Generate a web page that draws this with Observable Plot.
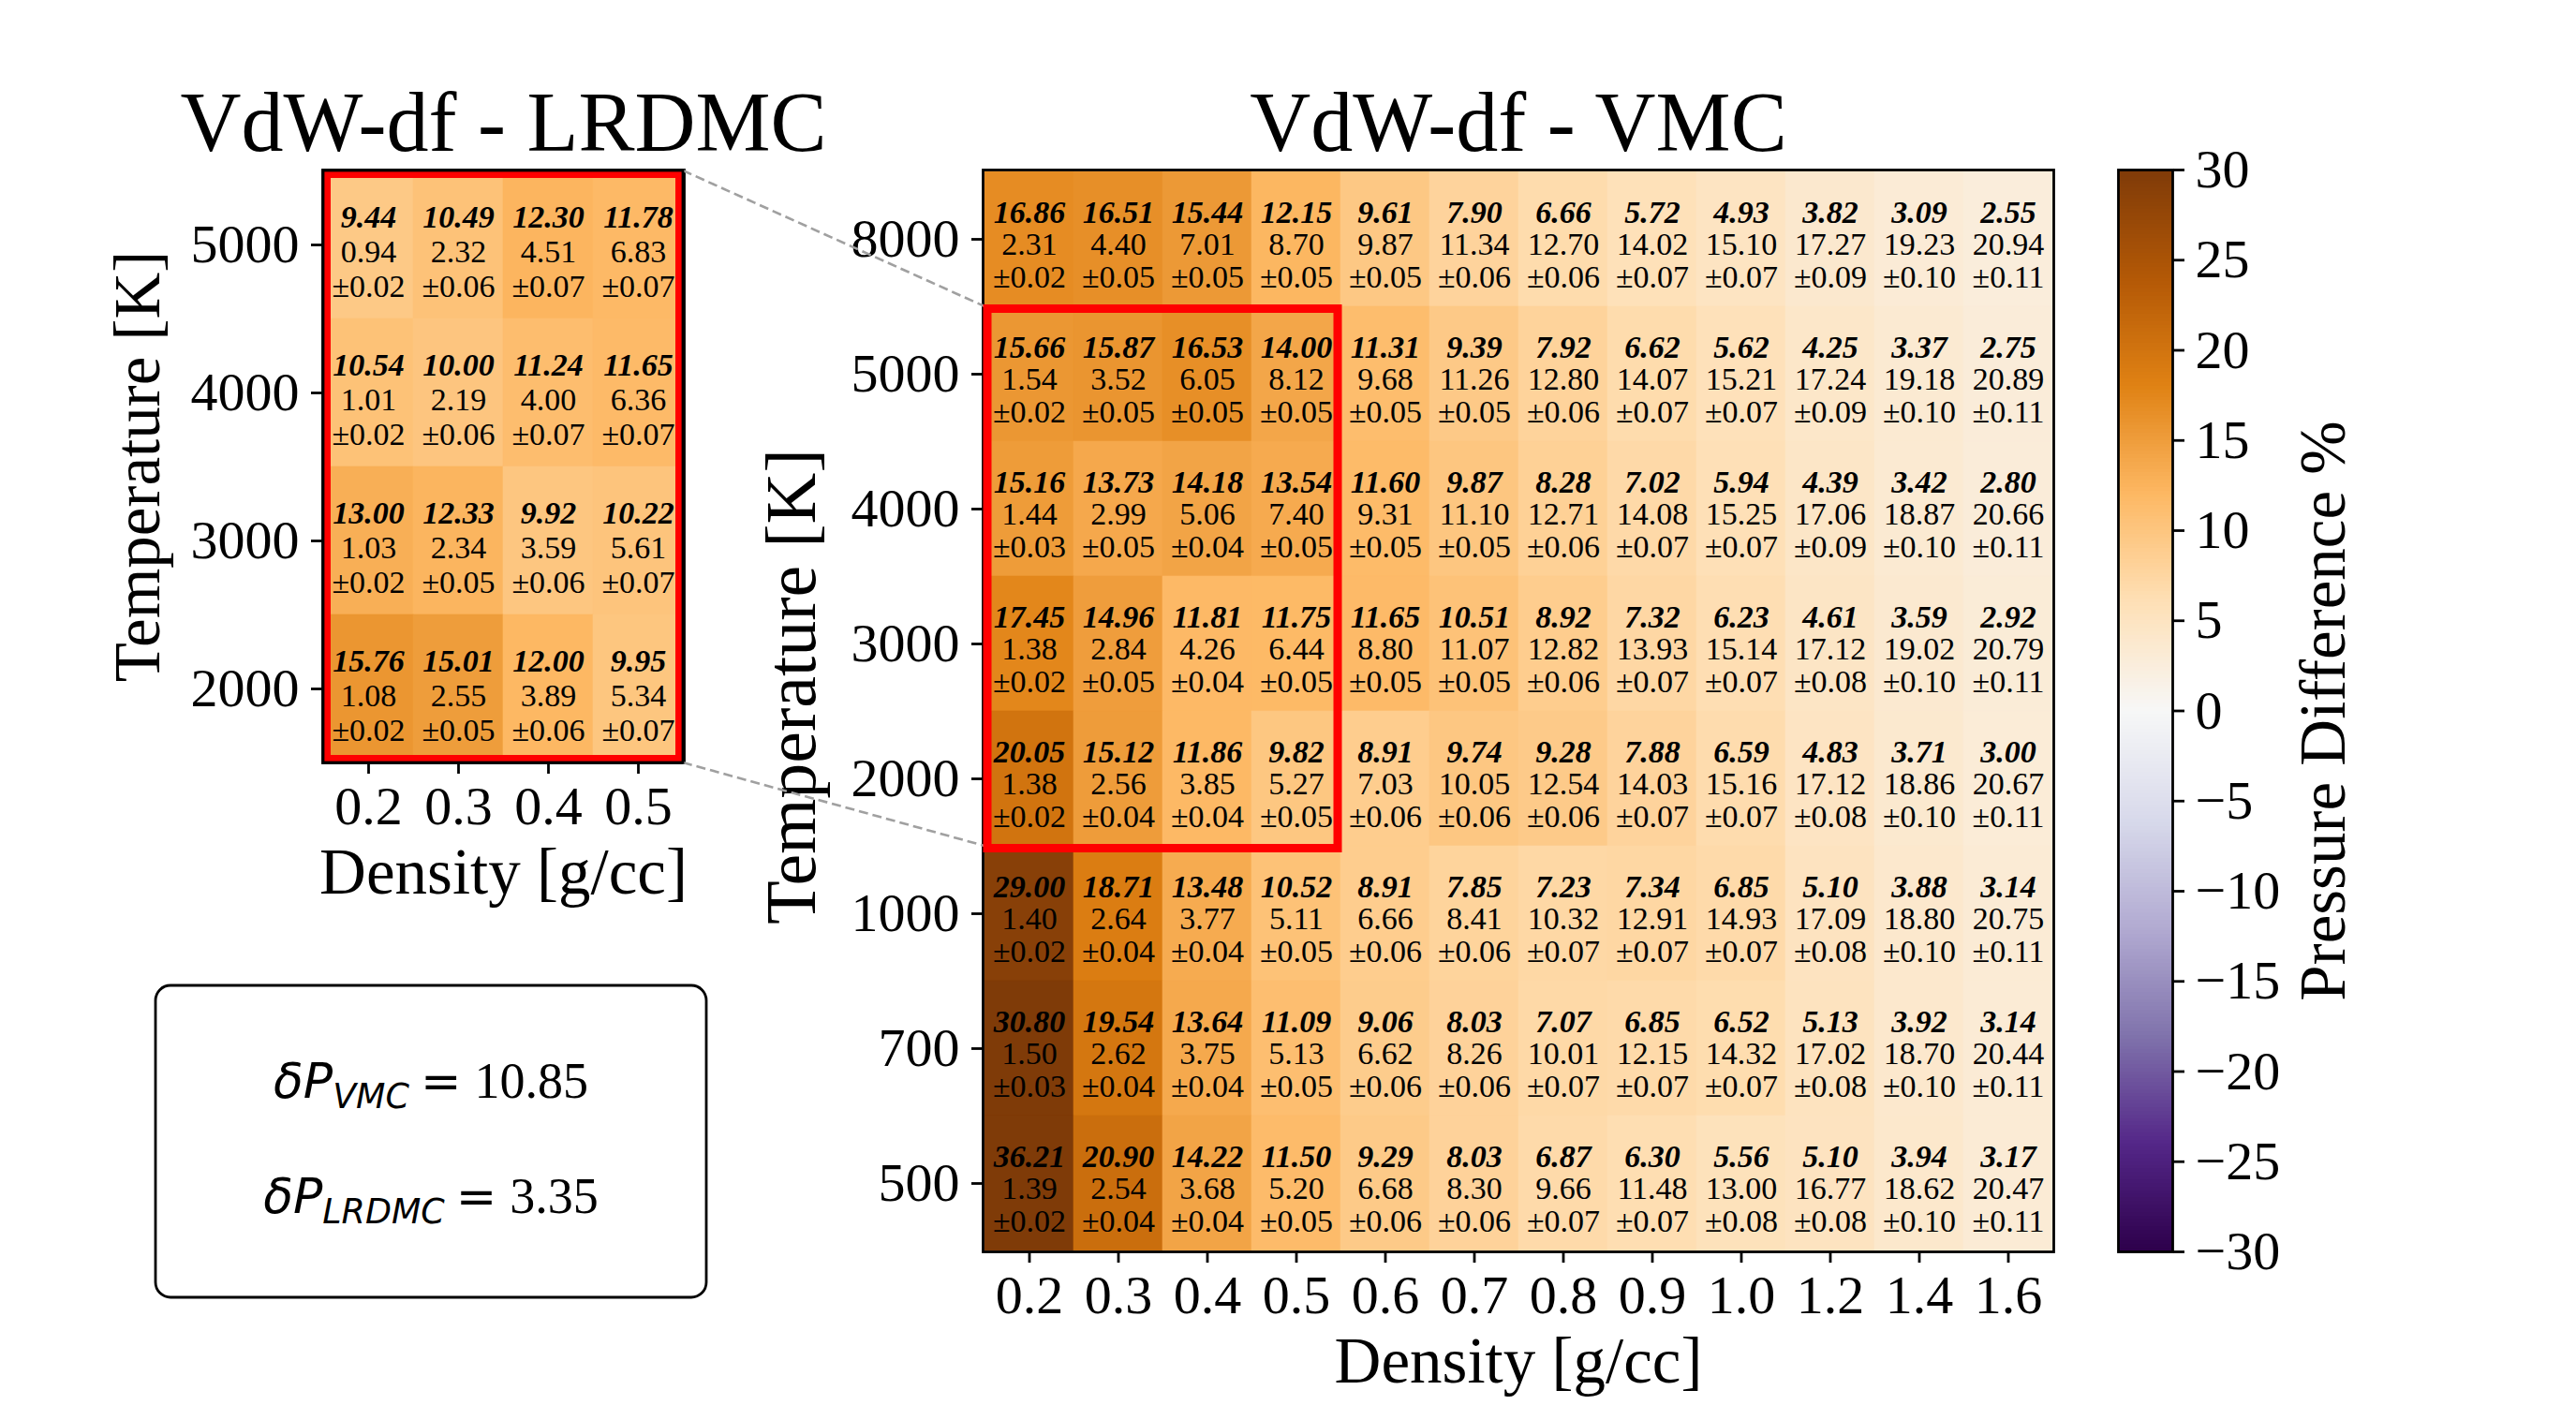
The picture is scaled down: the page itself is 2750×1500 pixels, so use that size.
<!DOCTYPE html>
<html>
<head>
<meta charset="utf-8">
<script src="https://cdn.jsdelivr.net/npm/d3@7"></script>
<script src="https://cdn.jsdelivr.net/npm/@observablehq/plot@0.6"></script>
<style>
  html, body { margin: 0; padding: 0; background: #fff; }
  #chart { position: relative; width: 2750px; height: 1500px; overflow: hidden; background: #fff; }
  #chart > svg { position: absolute; left: 0; top: 0; }
</style>
</head>
<body>
<div id="chart"></div>
<script>
// ---------------- DATA ----------------
const densityLabels = ["0.2","0.3","0.4","0.5","0.6","0.7","0.8","0.9","1.0","1.2","1.4","1.6"];
const temperatureLabels = ["8000","5000","4000","3000","2000","1000","700","500"];

// VdW-df - VMC : pressure difference % (rows = temperatures top to bottom)
const vmcDiff = [
  [16.86,16.51,15.44,12.15, 9.61, 7.90, 6.66, 5.72, 4.93, 3.82, 3.09, 2.55],
  [15.66,15.87,16.53,14.00,11.31, 9.39, 7.92, 6.62, 5.62, 4.25, 3.37, 2.75],
  [15.16,13.73,14.18,13.54,11.60, 9.87, 8.28, 7.02, 5.94, 4.39, 3.42, 2.80],
  [17.45,14.96,11.81,11.75,11.65,10.51, 8.92, 7.32, 6.23, 4.61, 3.59, 2.92],
  [20.05,15.12,11.86, 9.82, 8.91, 9.74, 9.28, 7.88, 6.59, 4.83, 3.71, 3.00],
  [29.00,18.71,13.48,10.52, 8.91, 7.85, 7.23, 7.34, 6.85, 5.10, 3.88, 3.14],
  [30.80,19.54,13.64,11.09, 9.06, 8.03, 7.07, 6.85, 6.52, 5.13, 3.92, 3.14],
  [36.21,20.90,14.22,11.50, 9.29, 8.03, 6.87, 6.30, 5.56, 5.10, 3.94, 3.17]
];
const vmcPressure = [
  [2.31,4.40,7.01,8.70,9.87,11.34,12.70,14.02,15.10,17.27,19.23,20.94],
  [1.54,3.52,6.05,8.12,9.68,11.26,12.80,14.07,15.21,17.24,19.18,20.89],
  [1.44,2.99,5.06,7.40,9.31,11.10,12.71,14.08,15.25,17.06,18.87,20.66],
  [1.38,2.84,4.26,6.44,8.80,11.07,12.82,13.93,15.14,17.12,19.02,20.79],
  [1.38,2.56,3.85,5.27,7.03,10.05,12.54,14.03,15.16,17.12,18.86,20.67],
  [1.40,2.64,3.77,5.11,6.66,8.41,10.32,12.91,14.93,17.09,18.80,20.75],
  [1.50,2.62,3.75,5.13,6.62,8.26,10.01,12.15,14.32,17.02,18.70,20.44],
  [1.39,2.54,3.68,5.20,6.68,8.30,9.66,11.48,13.00,16.77,18.62,20.47]
];
const vmcError = [
  [0.02,0.05,0.05,0.05,0.05,0.06,0.06,0.07,0.07,0.09,0.10,0.11],
  [0.02,0.05,0.05,0.05,0.05,0.05,0.06,0.07,0.07,0.09,0.10,0.11],
  [0.03,0.05,0.04,0.05,0.05,0.05,0.06,0.07,0.07,0.09,0.10,0.11],
  [0.02,0.05,0.04,0.05,0.05,0.05,0.06,0.07,0.07,0.08,0.10,0.11],
  [0.02,0.04,0.04,0.05,0.06,0.06,0.06,0.07,0.07,0.08,0.10,0.11],
  [0.02,0.04,0.04,0.05,0.06,0.06,0.07,0.07,0.07,0.08,0.10,0.11],
  [0.03,0.04,0.04,0.05,0.06,0.06,0.07,0.07,0.07,0.08,0.10,0.11],
  [0.02,0.04,0.04,0.05,0.06,0.06,0.07,0.07,0.08,0.08,0.10,0.11]
];

// VdW-df - LRDMC (zoomed region)
const lrdmcDensityLabels = ["0.2","0.3","0.4","0.5"];
const lrdmcTemperatureLabels = ["5000","4000","3000","2000"];
const lrdmcDiff = [
  [ 9.44,10.49,12.30,11.78],
  [10.54,10.00,11.24,11.65],
  [13.00,12.33, 9.92,10.22],
  [15.76,15.01,12.00, 9.95]
];
const lrdmcPressure = [
  [0.94,2.32,4.51,6.83],
  [1.01,2.19,4.00,6.36],
  [1.03,2.34,3.59,5.61],
  [1.08,2.55,3.89,5.34]
];
const lrdmcError = [
  [0.02,0.06,0.07,0.07],
  [0.02,0.06,0.07,0.07],
  [0.02,0.05,0.06,0.07],
  [0.02,0.05,0.06,0.07]
];

const colorbarTicks = [30,25,20,15,10,5,0,-5,-10,-15,-20,-25,-30];
const colorbarDomain = [-30, 30];
// PuOr_r stops (low -> high)
const colorStops = ["#2d004b","#542788","#8073ac","#b2abd2","#d8daeb","#f7f7f7","#fee0b6","#fdb863","#e08214","#b35806","#7f3b08"];

const summaryMethods = ["VMC", "LRDMC"];
const summaryValues = [10.85, 3.35];

const titles = {main: "VdW-df - VMC", inset: "VdW-df - LRDMC"};
const xLabel = "Density [g/cc]";
const yLabel = "Temperature [K]";
const colorbarLabel = "Pressure Difference %";

// ---------------- LAYOUT ----------------
const W = 2750, H = 1500;
const SERIF = "'Liberation Serif', 'Times New Roman', serif";
const mainFrame = {left: 1049, right: 2192, top: 181, bottom: 1336};
const insetFrame = {left: 344, right: 730, top: 181, bottom: 814};
const cbarFrame = {left: 2261, right: 2319, top: 181, bottom: 1336};

const stopDomain = colorStops.map((_, i) => colorbarDomain[0] + i * (colorbarDomain[1] - colorbarDomain[0]) / (colorStops.length - 1));
const colorOpts = {type: "linear", domain: stopDomain, range: colorStops, interpolate: "rgb", clamp: true};

function buildTable(dens, temps, diff, pres, err) {
  const out = [];
  temps.forEach((t, i) => dens.forEach((d, j) => {
    out.push({density: d, temperature: t, diff: diff[i][j], pressure: pres[i][j], error: err[i][j]});
  }));
  return out;
}

const vmcTable = buildTable(densityLabels, temperatureLabels, vmcDiff, vmcPressure, vmcError);
const lrdmcTable = buildTable(lrdmcDensityLabels, lrdmcTemperatureLabels, lrdmcDiff, lrdmcPressure, lrdmcError);

const baseStyle = {background: "transparent", overflow: "visible", fontFamily: SERIF, color: "black", fontSize: "58px"};

function heatmap({frame, dens, temps, data, title, lineDy, yLabelSize, yLabelDx, yLabelDy}) {
  return Plot.plot({
    width: W, height: H,
    marginLeft: frame.left, marginRight: W - frame.right,
    marginTop: frame.top, marginBottom: H - frame.bottom,
    style: baseStyle,
    x: {domain: dens, padding: 0, label: null},
    y: {domain: temps, padding: 0, label: null},
    color: colorOpts,
    marks: [
      Plot.cell(data, {x: "density", y: "temperature", fill: "diff", stroke: "diff", strokeWidth: 0.6, inset: 0}),
      Plot.text(data, {x: "density", y: "temperature", text: d => d.diff.toFixed(2), fontWeight: "bold", fontStyle: "italic", fontSize: 34, fill: "black", dy: lineDy[0]}),
      Plot.text(data, {x: "density", y: "temperature", text: d => d.pressure.toFixed(2), fontSize: 34, fill: "black", dy: lineDy[1]}),
      Plot.text(data, {x: "density", y: "temperature", text: d => "\u00b1" + d.error.toFixed(2), fontSize: 34, fill: "black", dy: lineDy[2]}),
      Plot.frame({stroke: "black", strokeWidth: 2.8}),
      Plot.axisX({tickSize: 12, tickPadding: 12, fontSize: 58, strokeWidth: 2.8, label: null}),
      Plot.axisY({tickSize: 12, tickPadding: 13, fontSize: 58, strokeWidth: 2.8, label: null}),
      Plot.text([title], {text: d => d, frameAnchor: "top", textAnchor: "middle", lineAnchor: "bottom", dy: -21, fontSize: 90}),
      Plot.text([xLabel], {text: d => d, frameAnchor: "bottom", textAnchor: "middle", lineAnchor: "bottom", dy: 139, fontSize: 69}),
      Plot.text([yLabel], {text: d => d, frameAnchor: "left", textAnchor: "middle", lineAnchor: "middle", rotate: -90, dx: yLabelDx, dy: yLabelDy, fontSize: yLabelSize})
    ]
  });
}

const chart = document.getElementById("chart");

const insetPlot = heatmap({
  frame: insetFrame, dens: lrdmcDensityLabels, temps: lrdmcTemperatureLabels, data: lrdmcTable,
  title: titles.inset, lineDy: [-29, 8, 45], yLabelSize: 69, yLabelDx: -197, yLabelDy: 0
});
const mainPlot = heatmap({
  frame: mainFrame, dens: densityLabels, temps: temperatureLabels, data: vmcTable,
  title: titles.main, lineDy: [-28.5, 6, 40.5], yLabelSize: 76, yLabelDx: -204, yLabelDy: -26
});

const cbarSamples = d3.range(colorbarDomain[0], colorbarDomain[1], 0.2);
const cbarPlot = Plot.plot({
  width: W, height: H,
  marginLeft: cbarFrame.left, marginRight: W - cbarFrame.right,
  marginTop: cbarFrame.top, marginBottom: H - cbarFrame.bottom,
  style: baseStyle,
  x: {domain: [0, 1], axis: null},
  y: {domain: colorbarDomain, axis: null},
  color: colorOpts,
  marks: [
    Plot.rect(cbarSamples, {x1: 0, x2: 1, y1: d => d, y2: d => d + 0.2, fill: d => d + 0.1, shapeRendering: "crispEdges"}),
    Plot.frame({stroke: "black", strokeWidth: 2.8}),
    Plot.axisY({anchor: "right", ticks: colorbarTicks, tickFormat: d3.format("d"), tickSize: 12, tickPadding: 12, fontSize: 58, strokeWidth: 2.8, label: null}),
    Plot.text([colorbarLabel], {text: d => d, frameAnchor: "right", textAnchor: "middle", lineAnchor: "middle", rotate: -90, dx: 161, fontSize: 69})
  ]
});

chart.appendChild(insetPlot);
chart.appendChild(mainPlot);
chart.appendChild(cbarPlot);

// ---------------- OVERLAY (zoom box, connectors, summary) ----------------
const mx = mainPlot.scale("x"), my = mainPlot.scale("y");
const ix = insetPlot.scale("x"), iy = insetPlot.scale("y");

const zx0 = mx.apply(lrdmcDensityLabels[0]);
const zx1 = mx.apply(lrdmcDensityLabels[lrdmcDensityLabels.length - 1]) + mx.bandwidth;
const zy0 = my.apply(lrdmcTemperatureLabels[0]);
const zy1 = my.apply(lrdmcTemperatureLabels[lrdmcTemperatureLabels.length - 1]) + my.bandwidth;

const ix0 = ix.apply(lrdmcDensityLabels[0]);
const ix1 = ix.apply(lrdmcDensityLabels[lrdmcDensityLabels.length - 1]) + ix.bandwidth;
const iy0 = iy.apply(lrdmcTemperatureLabels[0]);
const iy1 = iy.apply(lrdmcTemperatureLabels[lrdmcTemperatureLabels.length - 1]) + iy.bandwidth;

const overlay = d3.select(chart).append("svg")
  .attr("width", W).attr("height", H)
  .style("overflow", "visible");

// dashed connectors
overlay.append("line").attr("x1", ix1).attr("y1", iy0).attr("x2", zx0).attr("y2", zy0)
  .attr("stroke", "#a0a0a0").attr("stroke-width", 2.6).attr("stroke-dasharray", "10,5");
overlay.append("line").attr("x1", ix1).attr("y1", iy1).attr("x2", zx0).attr("y2", zy1)
  .attr("stroke", "#a0a0a0").attr("stroke-width", 2.6).attr("stroke-dasharray", "10,5");

// red zoom box on main
overlay.append("rect")
  .attr("x", zx0 + 3).attr("y", zy0 + 2.5).attr("width", zx1 - zx0 - 6).attr("height", zy1 - zy0)
  .attr("fill", "none").attr("stroke", "#ff0000").attr("stroke-width", 9);
// red frame inside inset
overlay.append("rect")
  .attr("x", ix0 + 4.5).attr("y", iy0 + 4.5).attr("width", ix1 - ix0 - 9).attr("height", iy1 - iy0 - 9)
  .attr("fill", "none").attr("stroke", "#ff0000").attr("stroke-width", 7);
// re-draw inset black frame on top
overlay.append("rect")
  .attr("x", ix0).attr("y", iy0).attr("width", ix1 - ix0).attr("height", iy1 - iy0)
  .attr("fill", "none").attr("stroke", "black").attr("stroke-width", 2.8);

// summary box
const box = {x: 166, y: 1052, w: 588, h: 333};
overlay.append("rect")
  .attr("x", box.x).attr("y", box.y).attr("width", box.w).attr("height", box.h)
  .attr("rx", 16).attr("ry", 16)
  .attr("fill", "white").attr("stroke", "black").attr("stroke-width", 2.8);

const baselines = [1172, 1295];
summaryMethods.forEach((m, i) => {
  const t = overlay.append("text")
    .attr("x", box.x + box.w / 2).attr("y", baselines[i])
    .attr("text-anchor", "middle").attr("fill", "black");
  t.append("tspan").attr("font-family", "'DejaVu Sans', sans-serif").attr("font-style", "italic").attr("font-size", 52).text("\u03b4P");
  t.append("tspan").attr("font-family", "'DejaVu Sans', sans-serif").attr("font-style", "italic").attr("font-size", 36.4).attr("dy", 11).text(m);
  t.append("tspan").attr("font-family", "'DejaVu Sans', sans-serif").attr("font-size", 52).attr("dy", -11).attr("dx", 12).text("=");
  t.append("tspan").attr("font-family", SERIF).attr("font-size", 54).attr("dx", 14).text(summaryValues[i].toFixed(2));
});
</script>
</body>
</html>
